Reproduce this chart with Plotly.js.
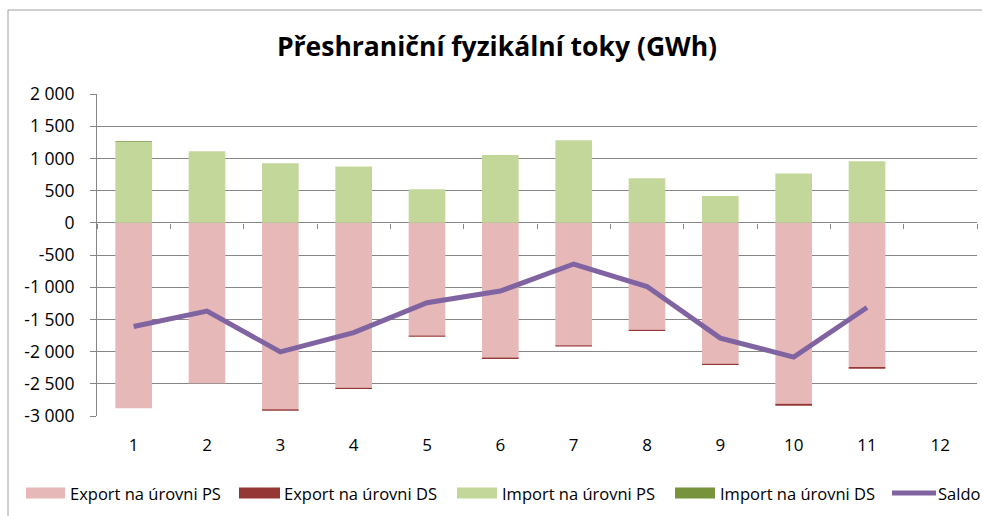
<!DOCTYPE html>
<html>
<head>
<meta charset="utf-8">
<script src="https://cdn.plot.ly/plotly-3.0.1.min.js"></script>
<style>html,body{margin:0;padding:0;background:#fff;}#chart{width:982px;height:516px;}</style>
</head>
<body>
<div id="chart"></div>
<script>
// ---- data ----
const months = ['1','2','3','4','5','6','7','8','9','10','11','12'];
const exportPS = [-2880, -2490, -2895, -2560, -1750, -2090, -1900, -1660, -2190, -2810, -2240];
const exportDS = [0, 0, -25, -20, -20, -25, -20, -20, -20, -30, -25];
const importPS = [1255, 1110, 924, 873, 522, 1053, 1280, 692, 418, 764, 955];
const importDS = [12, 0, 0, 0, 0, 0, 0, 0, 0, 0, 0];
const saldo = [-1610, -1370, -2005, -1705, -1240, -1060, -640, -990, -1790, -2085, -1315];
const yTickVals = [2000, 1500, 1000, 500, 0, -500, -1000, -1500, -2000, -2500, -3000];
const yTickText = ['2 000', '1 500', '1 000', '500', '0', '-500', '-1 000', '-1 500', '-2 000', '-2 500', '-3 000'];
const seriesNames = ['Export na úrovni PS', 'Export na úrovni DS', 'Import na úrovni PS', 'Import na úrovni DS', 'Saldo'];

// ---- styles ----
const colors = ['#e6b9b8', '#953735', '#c4d79b', '#77933c', '#8064a2'];
const FONT = 'Open Sans, Noto Sans, sans-serif';
const W = 982, H = 516;
const M = {l: 97, r: 5, t: 94, b: 100};
const plotW = W - M.l - M.r, plotH = H - M.t - M.b;
const px2x = px => (px - M.l) / plotW;
const px2y = py => (H - M.b - py) / plotH;

const xs = months.slice(0, exportPS.length);
const barVals = [exportPS, exportDS, importPS, importDS];
const traces = barVals.map((v, i) => ({
  type: 'bar', x: xs, y: v, name: seriesNames[i],
  marker: {color: colors[i], line: {width: 0}},
  width: 0.5, showlegend: false, hoverinfo: 'x+y+name'
}));
traces.push({
  type: 'scatter', mode: 'lines', x: xs, y: saldo, name: seriesNames[4],
  xaxis: 'x2', line: {color: colors[4], width: 5}, showlegend: false
});

// custom legend (swatches + labels), positions in px
const legY = 493;
const legItems = [
  {sw: [26, 65], tx: 69, kind: 'rect'},
  {sw: [239, 280], tx: 283, kind: 'rect'},
  {sw: [457, 497], tx: 501, kind: 'rect'},
  {sw: [675, 715], tx: 719, kind: 'rect'},
  {sw: [892, 936], tx: 937, kind: 'line'}
];
const shapes = [];
const annotations = [];
legItems.forEach((it, i) => {
  if (it.kind === 'rect') {
    shapes.push({type: 'rect', xref: 'paper', yref: 'paper', xsizemode: 'pixel', ysizemode: 'pixel',
      xanchor: 0, yanchor: 0, x0: it.sw[0] - M.l, x1: it.sw[1] - M.l,
      y0: (H - M.b) - (legY + 5.5), y1: (H - M.b) - (legY - 5.5),
      fillcolor: colors[i], line: {width: 0}});
  } else {
    shapes.push({type: 'line', xref: 'paper', yref: 'paper', xsizemode: 'pixel', ysizemode: 'pixel',
      xanchor: 0, yanchor: 0, x0: it.sw[0] - M.l, x1: it.sw[1] - M.l,
      y0: (H - M.b) - legY, y1: (H - M.b) - legY,
      line: {color: colors[i], width: 5}});
  }
  annotations.push({xref: 'paper', yref: 'paper', x: px2x(it.tx), y: px2y(legY),
    xanchor: 'left', yanchor: 'middle', showarrow: false, borderpad: 0,
    text: seriesNames[i], font: {family: FONT, size: 16.5, color: '#000'}});
});
// outer chart frame
shapes.push({type: 'rect', xref: 'paper', yref: 'paper', xsizemode: 'pixel', ysizemode: 'pixel',
  xanchor: 0, yanchor: 1, x0: 8 - M.l, x1: 990 - M.l, y0: -(H + 20 - M.t), y1: M.t - 10,
  line: {color: '#a0a0a0', width: 1}, fillcolor: 'rgba(0,0,0,0)', layer: 'below'});

const layout = {
  width: W, height: H,
  margin: M,
  paper_bgcolor: '#fff', plot_bgcolor: '#fff',
  font: {family: FONT, size: 17, color: '#000'},
  title: {text: 'Přeshraniční fyzikální toky (GWh)', x: 497 / W, xref: 'container', xanchor: 'center',
    y: 1 - 47 / H, yref: 'container', yanchor: 'middle',
    font: {family: FONT, size: 26.5, color: '#000', weight: 'bold'}},
  barmode: 'relative',
  showlegend: false,
  xaxis: {type: 'category', categoryarray: months, categoryorder: 'array', range: [-0.5, 11.5],
    showgrid: false, zeroline: false, showline: false, ticks: '', ticklabelstandoff: 17,
    tickfont: {family: FONT, size: 17, color: '#000'}, fixedrange: true},
  xaxis2: {type: 'category', categoryarray: months, categoryorder: 'array', range: [-0.5, 11.5],
    overlaying: 'x', anchor: 'free', position: 0.6, showgrid: false, zeroline: false, showline: false,
    showticklabels: false, ticks: 'outside', tickson: 'boundaries', ticklen: 5, tickcolor: '#868686', tickwidth: 1},
  yaxis: {range: [-3000, 2000], tickvals: yTickVals, ticktext: yTickText, showgrid: true,
    gridcolor: '#868686', gridwidth: 1, zeroline: true, zerolinecolor: '#868686', zerolinewidth: 1,
    showline: true, linecolor: '#868686', linewidth: 1, ticks: 'outside', ticklen: 6, tickcolor: '#868686',
    ticklabelstandoff: 12, tickfont: {family: FONT, size: 17.5, color: '#000'}, fixedrange: true},
  shapes: shapes,
  annotations: annotations
};
Plotly.newPlot('chart', traces, layout, {displayModeBar: false, staticPlot: true});
</script>
</body>
</html>
